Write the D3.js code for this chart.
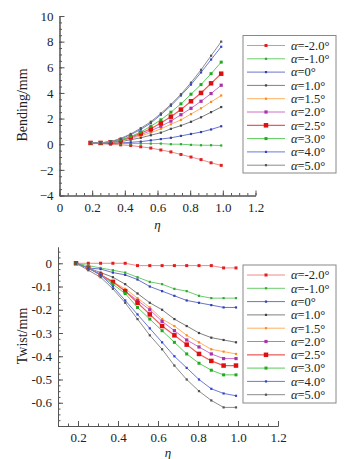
<!DOCTYPE html>
<html><head><meta charset="utf-8">
<script src="https://cdn.jsdelivr.net/npm/d3@7"></script>
<style>
body{margin:0;background:#fff;}
svg, svg text{font-family:"Liberation Serif","Times New Roman","DejaVu Serif",serif;}
</style></head>
<body>
<svg id="c" width="352" height="459"></svg>
<script>
const eta = [0.19,0.2515,0.313,0.3745,0.436,0.4975,0.559,0.6205,0.682,0.7435,0.805,0.8665,0.928,0.99];
const alphaLabels = ["-2.0","-1.0","0","1.0","1.5","2.0","2.5","3.0","4.0","5.0"];
const lineColors = ["#f08a8a","#6ccc6c","#6a74cc","#808080","#ffb060","#cc70cc","#ee5a5a","#5ccc5c","#6a7ad8","#8c8c8c"];
const markColors = ["#e02020","#30aa30","#3040b0","#444444","#ff8c1a","#aa33aa","#dd1010","#20aa20","#3344cc","#555555"];
const markSizes = [3,2.2,2.2,2.2,2.2,3.2,4.5,3,2.2,2.2];

const bending = [
  [0.1,0.05,0,-0.05,-0.1,-0.2,-0.3,-0.45,-0.6,-0.8,-1.0,-1.2,-1.45,-1.65],
  [0.1,0.05,0.05,0.05,0.05,0.05,0.05,0.05,0,0,-0.05,-0.08,-0.08,-0.1],
  [0.05,0.05,0.05,0.1,0.15,0.2,0.3,0.4,0.5,0.65,0.8,0.95,1.15,1.4],
  [0.1,0.1,0.1,0.2,0.35,0.5,0.7,0.9,1.2,1.45,1.75,2.1,2.5,2.9],
  [0.1,0.1,0.15,0.25,0.45,0.65,0.9,1.2,1.55,1.9,2.35,2.8,3.3,3.8],
  [0.1,0.1,0.15,0.3,0.5,0.75,1.05,1.4,1.8,2.3,2.8,3.35,3.95,4.6],
  [0.1,0.1,0.15,0.3,0.55,0.85,1.2,1.65,2.15,2.7,3.35,4.0,4.75,5.5],
  [0.1,0.1,0.2,0.35,0.6,0.95,1.4,1.9,2.5,3.15,3.9,4.65,5.5,6.4],
  [0.1,0.1,0.2,0.4,0.75,1.15,1.65,2.3,3.0,3.8,4.65,5.6,6.6,7.6],
  [0.1,0.1,0.2,0.45,0.8,1.25,1.75,2.4,3.1,3.9,4.8,5.8,6.9,8.0]
];
const twist = [
  [0,0,0,0,0,-0.01,-0.01,-0.01,-0.01,-0.01,-0.01,-0.01,-0.02,-0.02],
  [0,-0.01,-0.02,-0.03,-0.04,-0.06,-0.08,-0.09,-0.11,-0.12,-0.14,-0.15,-0.15,-0.15],
  [0,-0.02,-0.025,-0.04,-0.05,-0.07,-0.1,-0.12,-0.14,-0.16,-0.17,-0.18,-0.19,-0.19],
  [0,-0.02,-0.04,-0.06,-0.09,-0.13,-0.17,-0.2,-0.24,-0.27,-0.3,-0.32,-0.33,-0.34],
  [0,-0.02,-0.05,-0.08,-0.11,-0.15,-0.19,-0.24,-0.27,-0.31,-0.34,-0.37,-0.38,-0.39],
  [0,-0.02,-0.05,-0.08,-0.12,-0.16,-0.2,-0.25,-0.29,-0.33,-0.36,-0.39,-0.41,-0.41],
  [0,-0.02,-0.05,-0.08,-0.12,-0.17,-0.22,-0.27,-0.31,-0.35,-0.39,-0.42,-0.44,-0.44],
  [0,-0.02,-0.05,-0.09,-0.13,-0.19,-0.24,-0.29,-0.34,-0.39,-0.43,-0.46,-0.48,-0.48],
  [0,-0.02,-0.05,-0.1,-0.16,-0.22,-0.28,-0.34,-0.4,-0.45,-0.5,-0.54,-0.56,-0.57],
  [0,-0.03,-0.06,-0.11,-0.17,-0.24,-0.31,-0.37,-0.44,-0.5,-0.55,-0.59,-0.62,-0.62]
];
const topXTicks = [0,0.2,0.4,0.6,0.8,1.0,1.2];
const topYTicks = [-4,-2,0,2,4,6,8,10];
const botXTicks = [0.2,0.4,0.6,0.8,1.0,1.2];
const botYTicks = [-0.6,-0.5,-0.4,-0.3,-0.2,-0.1,0];

const FONT = "'Liberation Serif','Times New Roman','DejaVu Serif',serif";
const svg = d3.select("#c");

function panel(cfg){
  const x = d3.scaleLinear().domain(cfg.xd).range(cfg.xr);
  const y = d3.scaleLinear().domain(cfg.yd).range(cfg.yr);
  const g = svg.append("g");
  const xm = d3.range(cfg.xd[0], cfg.xd[1]+1e-9, cfg.xMinor);
  const ym = d3.range(cfg.yd[0], cfg.yd[1]+1e-9, cfg.yMinor);
  g.append("g").attr("transform",`translate(0,${cfg.yr[0]})`)
    .call(d3.axisBottom(x).tickValues(xm).tickSize(-2.5).tickSizeOuter(0).tickFormat(""))
    .call(s=>s.selectAll("line,path").attr("stroke","#555"));
  g.append("g").attr("transform",`translate(${cfg.xr[0]},0)`)
    .call(d3.axisLeft(y).tickValues(ym).tickSize(-2.5).tickSizeOuter(0).tickFormat(""))
    .call(s=>s.selectAll("line,path").attr("stroke","#555"));
  const ax = g.append("g").attr("transform",`translate(0,${cfg.yr[0]})`)
    .call(d3.axisBottom(x).tickValues(cfg.xt).tickSize(-5).tickSizeOuter(0).tickPadding(7).tickFormat(d=>d===0?"0":d3.format(".1f")(d)));
  const ay = g.append("g").attr("transform",`translate(${cfg.xr[0]},0)`)
    .call(d3.axisLeft(y).tickValues(cfg.yt).tickSize(-5).tickSizeOuter(0).tickPadding(6).tickFormat(cfg.yf));
  [ax,ay].forEach(a=>{
    a.attr("font-family",FONT).attr("font-size",13);
    a.selectAll("line,path").attr("stroke","#555");
    a.selectAll("text").attr("fill","#222");
  });
  const line = d3.line().x((d,i)=>x(eta[i])).y(d=>y(d));
  cfg.data.forEach((ser,k)=>{
    g.append("path").datum(ser).attr("d",line).attr("fill","none")
      .attr("stroke",lineColors[k]).attr("stroke-width",k===6?1.2:1);
    const s = markSizes[k];
    g.selectAll(null).data(ser).enter().append("rect")
      .attr("x",(d,i)=>x(eta[i])-s/2).attr("y",d=>y(d)-s/2)
      .attr("width",s).attr("height",s).attr("fill",markColors[k]);
  });
  svg.append("text").attr("x",(cfg.xr[0]+cfg.xr[1])/2).attr("y",cfg.yr[0]+cfg.etaDy)
    .attr("text-anchor","middle").attr("font-family",FONT).attr("font-size",13).attr("font-style","italic").attr("fill","#222").text("η");
  svg.append("text").attr("transform",`translate(${cfg.ylx},${cfg.yly}) rotate(-90)`)
    .attr("text-anchor","middle").attr("font-family",FONT).attr("font-size",14).attr("fill","#222").text(cfg.ylabel);
  const L = svg.append("g").attr("font-family",FONT);
  L.append("rect").attr("x",cfg.lx).attr("y",cfg.ly).attr("width",93).attr("height",cfg.lh)
    .attr("fill","#fff").attr("stroke","#888").attr("stroke-width",1);
  alphaLabels.forEach((a,k)=>{
    const yy = cfg.ly+10+k*13.3;
    L.append("line").attr("x1",cfg.lx+4).attr("x2",cfg.lx+42).attr("y1",yy).attr("y2",yy)
      .attr("stroke",lineColors[k]).attr("stroke-width",k===6?1.2:1);
    const s = markSizes[k];
    L.append("rect").attr("x",cfg.lx+23-s/2).attr("y",yy-s/2).attr("width",s).attr("height",s).attr("fill",markColors[k]);
    const t = L.append("text").attr("x",cfg.lx+48).attr("y",yy+4.3).attr("font-size",12.5).attr("fill","#222");
    t.append("tspan").attr("font-style","italic").text("α");
    t.append("tspan").text("="+a+"°");
  });
}

panel({xd:[0,1.2], xr:[59.5,255.5], yd:[-4,10], yr:[195.5,16], xt:topXTicks, yt:topYTicks,
  xMinor:0.05, yMinor:0.5, yf:d3.format("d"), data:bending, ylabel:"Bending/mm", ylx:27, yly:105,
  lx:243, ly:35.5, lh:137.5, etaDy:33});
panel({xd:[0.1,1.2], xr:[58,278], yd:[-0.7,0.07], yr:[426,247], xt:botXTicks, yt:botYTicks,
  xMinor:0.05, yMinor:0.025, yf:d=>d===0?"0":d3.format(".1f")(d).replace("−","-"), data:twist, ylabel:"Twist/mm", ylx:27, yly:336,
  lx:243, ly:265, lh:138, etaDy:31});
</script>
</body></html>
